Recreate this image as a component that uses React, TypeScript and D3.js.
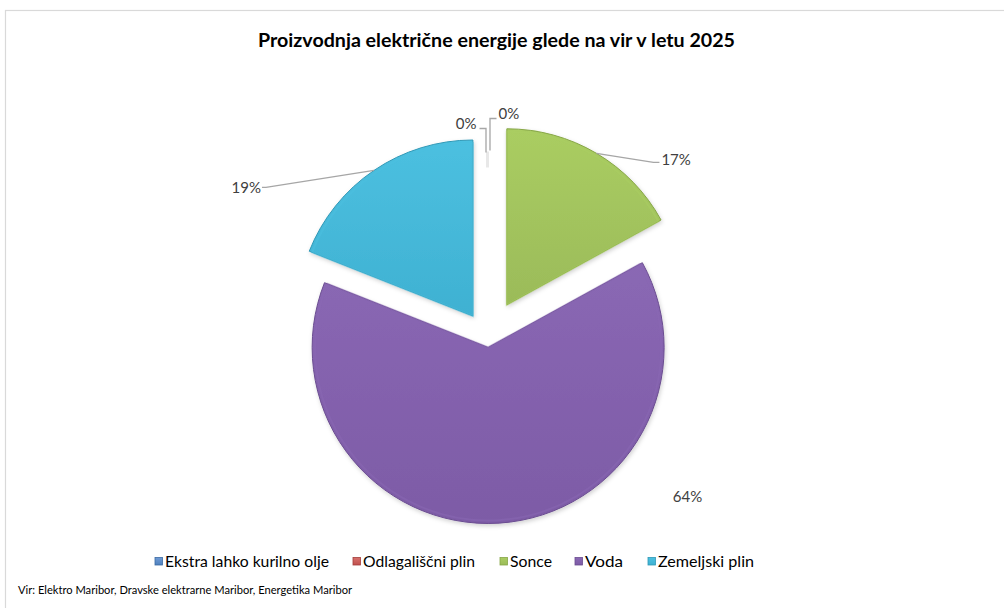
import React from "react";
import * as d3 from "d3";

const categories = ["Ekstra lahko kurilno olje", "Odlagališčni plin", "Sonce", "Voda", "Zemeljski plin"];
const values = [0, 0, 17, 64, 19];
const labels = ["0%", "0%", "17%", "64%", "19%"];
const titleText = "Proizvodnja električne energije glede na vir v letu 2025";
const sourceText = "Vir: Elektro Maribor, Dravske elektrarne Maribor, Energetika Maribor";

const colors = ["#4f81bd", "#c0504d", "#9bbb59", "#7d5ba6", "#3fb1d2"];
const colorsLight = ["#6f9bd6", "#d8706c", "#aacd62", "#8a68b4", "#4cc0e0"];
const colorsDark = ["#3b6aa3", "#a33d3a", "#86a646", "#6a4c90", "#2f98b6"];
const explode = [10, 10, 38, 10, 26];

const W = 1004, H = 608;
const cx = 487.5, cy = 337.5, R = 176;
const FONT = "Lato, 'Open Sans', sans-serif";

export default function App() {
  const pie = d3.pie<number>().sort(null).value((d) => d).startAngle(0).endAngle(2 * Math.PI);
  const arcs = pie(values);
  const arcGen = d3.arc<d3.PieArcDatum<number>>().innerRadius(0).outerRadius(R);
  const arcInner = d3.arc<d3.PieArcDatum<number>>().innerRadius(0).outerRadius(R - 3);

  const offsetOf = (a: d3.PieArcDatum<number>, i: number) => {
    const m = (a.startAngle + a.endAngle) / 2;
    return [Math.sin(m) * explode[i], -Math.cos(m) * explode[i]];
  };
  const polar = (ang: number, r: number, o: number[]) => [cx + o[0] + Math.sin(ang) * r, cy + o[1] - Math.cos(ang) * r];

  const zeroTop = polar(0, R, [0, 0]);
  const sI = 2, zI = 4, vI = 3;
  const sMid = (arcs[sI].startAngle + arcs[sI].endAngle) / 2;
  const zMid = (arcs[zI].startAngle + arcs[zI].endAngle) / 2;
  const sStart = polar(sMid, R, offsetOf(arcs[sI], sI));
  const zStart = polar(zMid, R, offsetOf(arcs[zI], zI));

  const legendX = [155, 353, 500, 575, 648];
  const legendW = [164, 112, 42, 38, 96];

  return (
    <svg width={W} height={H} style={{ position: "absolute", left: 0, top: 0, background: "#fff" }} fontFamily={FONT}>
      <defs>
        {categories.map((c, i) => (
          <linearGradient key={c} id={`g${i}`} x1="0" y1="0" x2="0" y2="1">
            <stop offset="0" stopColor={colorsLight[i]} />
            <stop offset="1" stopColor={colors[i]} />
          </linearGradient>
        ))}
        <filter id="sh" x="-10%" y="-10%" width="120%" height="120%">
          <feDropShadow dx="1" dy="2" stdDeviation="2" floodColor="#000" floodOpacity="0.18" />
        </filter>
      </defs>
      <rect x={5.5} y={10.5} width={W} height={H} fill="#fff" stroke="#d9d9d9" strokeWidth={1.2} />
      <text x={496.5} y={47} textAnchor="middle" fontSize={19.5} fontWeight={700} fill="#000" textLength={477} lengthAdjust="spacingAndGlyphs">
        {titleText}
      </text>

      {arcs.map((a, i) => {
        if (a.endAngle - a.startAngle <= 0) return null;
        const o = offsetOf(a, i);
        return (
          <g key={categories[i]} transform={`translate(${cx + o[0]},${cy + o[1]})`}>
            <path d={arcGen(a) || ""} fill={`url(#g${i})`} stroke={colorsDark[i]} strokeWidth={1} filter="url(#sh)" />
            <path d={arcInner(a) || ""} fill="none" stroke={colorsLight[i]} strokeOpacity={0.5} strokeWidth={2} />
          </g>
        );
      })}

      <line x1={zeroTop[0]} y1={zeroTop[1] - 10} x2={zeroTop[0]} y2={zeroTop[1] + 6} stroke="#e8e8e8" strokeWidth={3} />

      <g fill="none" stroke="#a6a6a6" strokeWidth={1.3}>
        <polyline points={`${zeroTop[0] - 1.5},${zeroTop[1] - 9} ${zeroTop[0] - 1.5},${zeroTop[1] - 33} ${zeroTop[0] - 8},${zeroTop[1] - 33}`} />
        <polyline points={`${zeroTop[0] + 2.5},${zeroTop[1] - 11} ${zeroTop[0] + 2.5},${zeroTop[1] - 43} ${zeroTop[0] + 9},${zeroTop[1] - 43}`} />
        <polyline points={`${sStart[0]},${sStart[1]} ${sStart[0] + 57},${sStart[1] + 9} ${sStart[0] + 63},${sStart[1] + 9}`} />
        <polyline points={`${zStart[0]},${zStart[1]} ${zStart[0] - 108},${zStart[1] + 17} ${zStart[0] - 112},${zStart[1] + 17}`} />
      </g>

      <g fontSize={15} fill="#404040">
        <text x={zeroTop[0] - 11} y={zeroTop[1] - 38} dy="0.35em" textAnchor="end">{labels[0]}</text>
        <text x={zeroTop[0] + 11} y={zeroTop[1] - 48} dy="0.35em" textAnchor="start">{labels[1]}</text>
        <text x={sStart[0] + 65} y={sStart[1] + 6} dy="0.35em" textAnchor="start">{labels[sI]}</text>
        <text x={cx + 200} y={cy + 159} dy="0.35em" textAnchor="middle">{labels[vI]}</text>
        <text x={zStart[0] - 113} y={zStart[1] + 17} dy="0.35em" textAnchor="end">{labels[zI]}</text>
      </g>

      <g fontSize={15} fill="#000">
        {categories.map((c, i) => (
          <g key={c}>
            <rect x={legendX[i]} y={557.5} width={7.5} height={7.5} fill={`url(#g${i})`} stroke={colorsDark[i]} strokeWidth={0.8} />
            <text x={legendX[i] + 10} y={562} dy="0.35em" textLength={legendW[i]} lengthAdjust="spacingAndGlyphs">{c}</text>
          </g>
        ))}
      </g>

      <text x={18} y={590} dy="0.35em" fontSize={12} fill="#000" textLength={334} lengthAdjust="spacingAndGlyphs">{sourceText}</text>
    </svg>
  );
}
